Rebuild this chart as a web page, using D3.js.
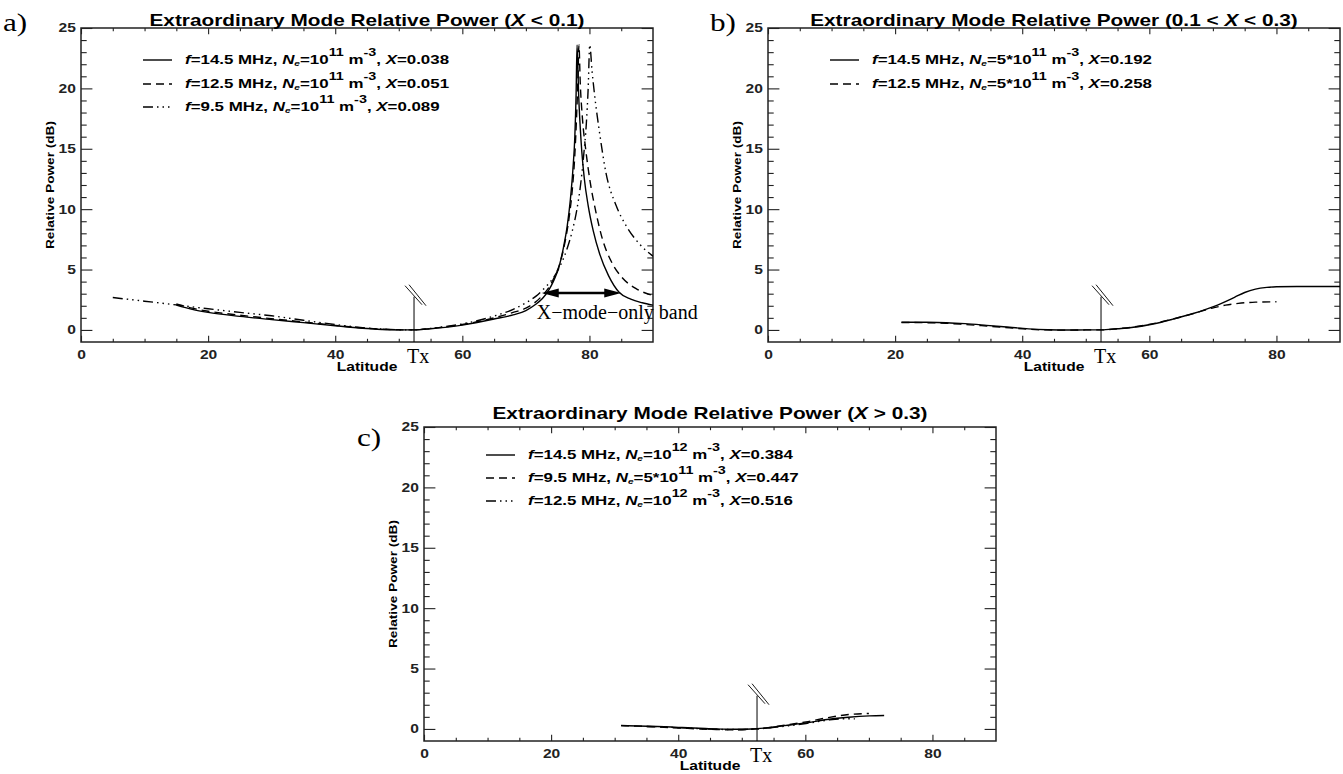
<!DOCTYPE html>
<html>
<head>
<meta charset="utf-8">
<title>Extraordinary Mode Relative Power</title>
<script src="https://cdn.jsdelivr.net/npm/d3@7"></script>
<style>
  body { margin: 0; background: #fff; }
  svg { display: block; }
  .sans { font-family: "Liberation Sans", Arial, Helvetica, sans-serif; font-weight: bold; }
  .serif { font-family: "Liberation Serif", "Times New Roman", serif; }
</style>
</head>
<body>
<svg id="fig" width="1343" height="774"></svg>
<script>
// ---- data (latitude, relative power dB) ----
const xMajor = [0, 20, 40, 60, 80];
const xMinor = [5, 10, 15, 25, 30, 35, 45, 50, 55, 65, 70, 75, 85];
const yMajor = [0, 5, 10, 15, 20, 25];
const yMinor = [1, 2, 3, 4, 6, 7, 8, 9, 11, 12, 13, 14, 16, 17, 18, 19, 21, 22, 23, 24];
const txLat = 52.4;

// panel a: X < 0.1
const a_f145 = [[15,2.05],[17.5,1.7],[20,1.45],[25,1.12],[30,0.85],[35,0.6],[40,0.35],[45,0.12],[48,0.03],[50,0],[52.4,0],
  [55,0.1],[60,0.4],[65,0.9],[68,1.25],[70,1.6],[71.5,2.1],[72.6,2.6],[73.6,3.3],[74.4,4.1],[75.2,5.2],[75.9,6.8],
  [76.5,8.6],[77,10.8],[77.4,13.3],[77.7,16],[77.9,19.5],[78.05,23.6],[78.3,19.5],[78.7,15.5],[79.2,12.5],[79.8,10.3],
  [80.6,8.2],[81.6,6.3],[83,4.5],[84.7,3.1],[86.5,2.55],[88.3,2.25],[90,2.05]];
const a_f125 = [[15,2.15],[17.5,1.8],[20,1.55],[25,1.22],[30,0.93],[35,0.66],[40,0.38],[45,0.13],[48,0.04],[50,0.01],[52.4,0],
  [55,0.12],[60,0.45],[65,1.0],[68,1.45],[70,1.8],[71.5,2.3],[72.6,2.85],[73.6,3.5],[74.5,4.4],[75.4,5.6],[76.2,7.4],
  [76.8,9.3],[77.3,11.6],[77.7,14.5],[78.0,18],[78.2,21],[78.35,23.6],[78.55,20.5],[78.9,17.5],[79.4,15],[80.1,12.3],
  [81,9.8],[82,7.6],[83.5,5.6],[85.2,4.3],[87.4,3.4],[90,2.85]];
const a_f95 = [[5,2.68],[10,2.38],[15,2.07],[20,1.75],[25,1.45],[30,1.17],[35,0.8],[40,0.45],[45,0.15],[50,0.02],[52.4,0],
  [55,0.13],[60,0.5],[65,1.15],[68,1.7],[70,2.25],[71.6,2.8],[73,3.5],[74.3,4.3],[75.4,5.3],[76.4,6.6],[77.3,8.2],
  [78,9.9],[78.6,12],[79.1,14.5],[79.5,17],[79.8,20],[80.05,23.6],[80.4,21.5],[80.8,19.5],[81.6,16.3],[82.6,13],
  [84.2,10.3],[85.8,8.6],[87.9,7.1],[90,6.1]];

// panel b: 0.1 < X < 0.3
const b_f145 = [[21,0.64],[25,0.63],[28,0.6],[31,0.52],[34.4,0.38],[38,0.22],[41,0.09],[44,0.02],[47.4,-0.01],[50,0],[52.4,0],
  [55,0.1],[57.2,0.2],[60.4,0.47],[63.7,0.89],[66.9,1.36],[70.2,1.95],[73.4,2.7],[75,3.1],[76.7,3.38],[78.5,3.52],
  [80,3.57],[83.2,3.6],[86,3.6],[90,3.6]];
const b_f125 = [[21,0.62],[25,0.6],[28,0.55],[31,0.45],[34.4,0.32],[38,0.18],[41,0.06],[44,0],[47.4,-0.02],[50,0],[52.4,0],
  [55,0.1],[57.2,0.22],[60.4,0.5],[63.7,0.9],[66.9,1.35],[70.2,1.85],[72,2.05],[74,2.2],[76.7,2.3],[80,2.33]];

// panel c: X > 0.3
const c_f145 = [[31,0.28],[36.7,0.2],[40,0.13],[43.3,0.06],[46,0.0],[48.7,-0.03],[52.4,0.02],[54.5,0.12],[56.7,0.27],
  [60.1,0.5],[63.4,0.78],[66.8,0.97],[70.1,1.08],[72.4,1.11]];
const c_f95 = [[31,0.27],[34,0.23],[37,0.15],[40,0.08],[43.3,0.0],[46,-0.05],[48.7,-0.07],[52.4,0.0],[54.5,0.12],
  [56.7,0.3],[60.1,0.58],[63.4,0.92],[66.8,1.19],[70,1.28]];
const c_f125 = [[35,0.2],[37,0.18],[40,0.1],[43.3,0.02],[46,-0.03],[48.7,-0.05],[52.4,0.0],[54.5,0.1],[56.7,0.22],
  [60.1,0.45],[63.4,0.72],[66,0.84],[67.8,0.83]];

// legend entries: [f (MHz), Ne mantissa, Ne exponent, X]
const legendA = [["14.5", "", "11", "0.038"], ["12.5", "", "11", "0.051"], ["9.5", "", "11", "0.089"]];
const legendB = [["14.5", "5*", "11", "0.192"], ["12.5", "5*", "11", "0.258"]];
const legendC = [["14.5", "", "12", "0.384"], ["9.5", "5*", "11", "0.447"], ["12.5", "", "12", "0.516"]];

// ---- drawing ----
const SX = 1.3;          // helvetica in the original is rendered wide
const W = 572, H = 314;
const DASH = { solid: null, dash: "8,5", dashdot: "10,4,1.5,4,1.5,4,1.5,4" };
const svg = d3.select("#fig");

function rich(g, x, y, parts, size, anchor) {
  const t = g.append("text").attr("class", "sans")
    .attr("font-size", size)
    .attr("text-anchor", anchor || "start")
    .attr("transform", `translate(${x},${y}) scale(${SX},1)`);
  let shift = 0;
  parts.forEach(p => {
    const target = p.sup ? -size * 0.58 : p.sub ? size * 0.18 : 0;
    const ts = t.append("tspan").text(p.t).attr("dy", target - shift);
    shift = target;
    if (p.i) ts.attr("font-style", "italic");
    if (p.sup) ts.attr("font-size", size * 0.85);
    if (p.sub) ts.attr("font-size", size * 0.6);
  });
  return t;
}

function legendParts(d) {
  return [
    {t: "f", i: true}, {t: "=" + d[0] + " MHz, "},
    {t: "N", i: true}, {t: "e", i: true, sub: true}, {t: "=" + d[1] + "10"}, {t: d[2], sup: true},
    {t: " m"}, {t: "-3", sup: true}, {t: ", "}, {t: "X", i: true}, {t: "=" + d[3]}
  ];
}

function drawPanel(p) {
  const g = svg.append("g");
  const x = d3.scaleLinear().domain([0, 90]).range([p.left, p.left + W]);
  const y = d3.scaleLinear().domain([-1, 25]).range([p.top + H, p.top]);

  const clipId = "clip-" + p.id;
  svg.append("clipPath").attr("id", clipId).append("rect")
    .attr("x", p.left).attr("y", p.top).attr("width", W).attr("height", H);

  function styleAxis(sel, labels) {
    sel.attr("color", "#222");
    sel.select(".domain").remove();
    sel.selectAll(".tick line").attr("stroke-width", 1.1);
    if (labels) {
      sel.selectAll("text").attr("class", "sans").attr("font-size", 12)
        .attr("transform", `scale(${SX},1)`);
    } else {
      sel.selectAll("text").remove();
    }
  }

  // bottom / top
  g.append("g").attr("transform", `translate(0,${p.top + H})`)
    .call(d3.axisBottom(x).tickValues(xMajor).tickSize(-6.3).tickSizeOuter(0).tickPadding(8))
    .call(s => styleAxis(s, true));
  g.append("g").attr("transform", `translate(0,${p.top + H})`)
    .call(d3.axisBottom(x).tickValues(xMinor).tickSize(-3.2).tickSizeOuter(0))
    .call(s => styleAxis(s, false));
  g.append("g").attr("transform", `translate(0,${p.top})`)
    .call(d3.axisTop(x).tickValues(xMajor).tickSize(-6.3).tickSizeOuter(0))
    .call(s => styleAxis(s, false));
  g.append("g").attr("transform", `translate(0,${p.top})`)
    .call(d3.axisTop(x).tickValues(xMinor).tickSize(-3.2).tickSizeOuter(0))
    .call(s => styleAxis(s, false));
  // left / right
  g.append("g").attr("transform", `translate(${p.left},0)`)
    .call(d3.axisLeft(y).tickValues(yMajor).tickSize(-11.4).tickSizeOuter(0).tickPadding(4))
    .call(s => styleAxis(s, true));
  g.append("g").attr("transform", `translate(${p.left},0)`)
    .call(d3.axisLeft(y).tickValues(yMinor).tickSize(-5.7).tickSizeOuter(0))
    .call(s => styleAxis(s, false));
  g.append("g").attr("transform", `translate(${p.left + W},0)`)
    .call(d3.axisRight(y).tickValues(yMajor).tickSize(-11.4).tickSizeOuter(0))
    .call(s => styleAxis(s, false));
  g.append("g").attr("transform", `translate(${p.left + W},0)`)
    .call(d3.axisRight(y).tickValues(yMinor).tickSize(-5.7).tickSizeOuter(0))
    .call(s => styleAxis(s, false));

  g.append("rect").attr("x", p.left).attr("y", p.top).attr("width", W).attr("height", H)
    .attr("fill", "none").attr("stroke", "#222").attr("stroke-width", 1.5);

  // curves
  const line = d3.line().x(d => x(d[0])).y(d => y(d[1])).curve(d3.curveMonotoneX);
  p.series.forEach(s => {
    g.append("path").datum(s.data).attr("d", line)
      .attr("clip-path", `url(#${clipId})`)
      .attr("fill", "none").attr("stroke", "#000").attr("stroke-width", 1.4)
      .attr("stroke-dasharray", DASH[s.style]);
  });

  // legend
  p.series.forEach((s, i) => {
    const ly = p.top + p.legendRows[i];
    g.append("line").attr("x1", p.left + 62).attr("x2", p.left + 91).attr("y1", ly).attr("y2", ly)
      .attr("stroke", "#000").attr("stroke-width", 1.4).attr("stroke-dasharray", DASH[s.style]);
    rich(g, p.left + 104, ly + 3.5, legendParts(s.legend), 13);
  });

  // titles and labels
  rich(g, p.left + W / 2, p.top - p.titleGap, p.title, 16, "middle");
  g.append("text").attr("class", "sans").attr("font-size", 12).attr("text-anchor", "middle")
    .attr("transform", `translate(${p.left + W / 2},${p.top + H + 29}) scale(${SX},1)`)
    .text("Latitude");
  g.append("text").attr("class", "sans").attr("font-size", 10.5).attr("text-anchor", "middle")
    .attr("transform", `translate(${p.left - 27},${p.top + H / 2}) rotate(-90) scale(${SX},1)`)
    .text("Relative Power (dB)");
  g.append("text").attr("class", "serif").attr("font-size", 26)
    .attr("transform", `translate(${p.labelX},${p.labelY}) scale(1.2,1)`)
    .text(p.id + ")");

  // transmitter marker
  const tx = x(txLat), tTop = y(2.75);
  g.append("line").attr("x1", tx).attr("x2", tx).attr("y1", y(-1)).attr("y2", tTop)
    .attr("stroke", "#000").attr("stroke-width", 1);
  g.append("line").attr("x1", tx - 9).attr("y1", tTop - 11).attr("x2", tx + 8).attr("y2", tTop + 8)
    .attr("stroke", "#000").attr("stroke-width", 0.9);
  g.append("line").attr("x1", tx - 5).attr("y1", tTop - 12).attr("x2", tx + 12).attr("y2", tTop + 9)
    .attr("stroke", "#000").attr("stroke-width", 0.9);
  g.append("text").attr("class", "serif").attr("font-size", 20)
    .attr("x", tx - 7).attr("y", p.top + H + 21).text("Tx");

  // X-mode-only band arrow
  if (p.band) {
    const x1 = x(p.band[0]), x2 = x(p.band[1]), ay = y(p.band[2]);
    g.append("line").attr("x1", x1 + 12).attr("x2", x2 - 12).attr("y1", ay).attr("y2", ay)
      .attr("stroke", "#000").attr("stroke-width", 2.6);
    g.append("path").attr("d", `M${x1},${ay}L${x1 + 17},${ay - 4.5}L${x1 + 17},${ay + 4.5}Z`).attr("fill", "#000");
    g.append("path").attr("d", `M${x2},${ay}L${x2 - 17},${ay - 4.5}L${x2 - 17},${ay + 4.5}Z`).attr("fill", "#000");
    g.append("text").attr("class", "serif").attr("font-size", 20)
      .attr("x", x1 - 5).attr("y", ay + 26).text("X\u2212mode\u2212only band");
  }
}

const T0 = [{t: "Extraordinary Mode Relative Power ("}];
const panels = [
  { id: "a", left: 81, top: 28, titleGap: 2, labelX: 3, labelY: 31, legendRows: [32, 56, 79],
    title: T0.concat([{t: "X", i: true}, {t: " < 0.1)"}]),
    band: [72.5, 85, 3.06],
    series: [{data: a_f145, style: "solid", legend: legendA[0]},
             {data: a_f125, style: "dash", legend: legendA[1]},
             {data: a_f95, style: "dashdot", legend: legendA[2]}] },
  { id: "b", left: 768, top: 28, titleGap: 2, labelX: 710, labelY: 31, legendRows: [32, 56],
    title: T0.concat([{t: "0.1 < "}, {t: "X", i: true}, {t: " < 0.3)"}]),
    series: [{data: b_f145, style: "solid", legend: legendB[0]},
             {data: b_f125, style: "dash", legend: legendB[1]}] },
  { id: "c", left: 424, top: 427, titleGap: 8, labelX: 357, labelY: 446, legendRows: [28, 51, 74],
    title: T0.concat([{t: "X", i: true}, {t: " > 0.3)"}]),
    series: [{data: c_f145, style: "solid", legend: legendC[0]},
             {data: c_f95, style: "dash", legend: legendC[1]},
             {data: c_f125, style: "dashdot", legend: legendC[2]}] }
];

panels.forEach(drawPanel);
</script>
</body>
</html>
